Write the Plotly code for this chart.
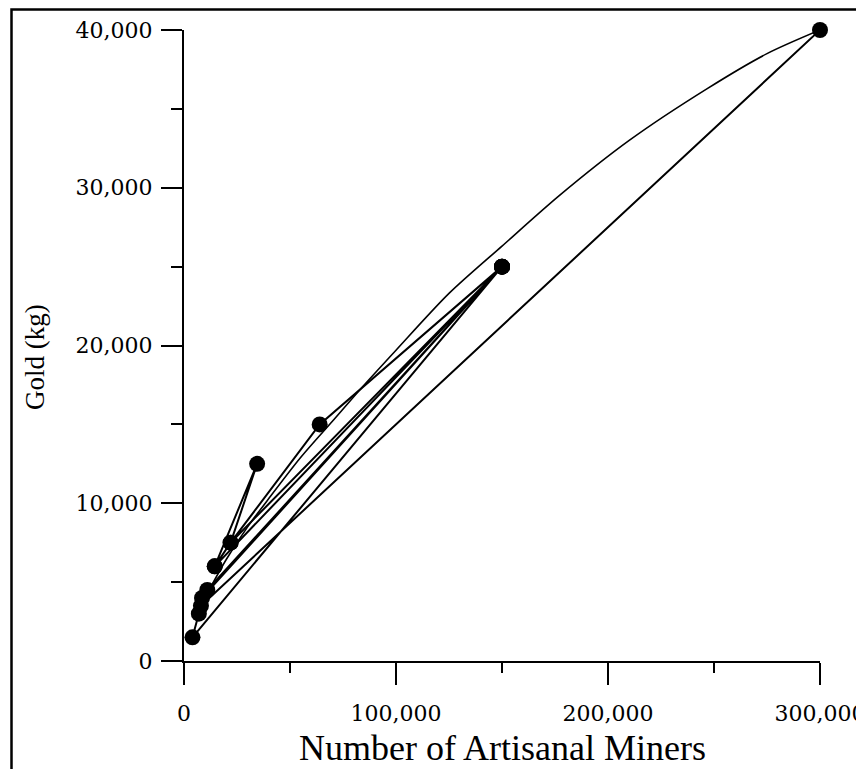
import plotly.graph_objects as go

# Data points in drawing order (as connected in the reference)
miners = [14500, 34500, 22000, 64000, 150000, 22000, 14500, 150000, 11000,
          150000, 8500, 150000, 4000, 7000, 8000, 300000]
gold = [6000, 12500, 7500, 15000, 25000, 7500, 6000, 25000, 4500,
        25000, 4000, 25000, 1500, 3000, 3500, 40000]

# Trend curve
curve_x = [10000, 20000, 30000, 40000, 55000, 70000, 83000, 100000, 125000,
           150000, 177000, 210000, 247000, 275000, 300000]
curve_y = [4050, 6450, 8500, 10300, 12900, 15200, 17200, 19700, 23300,
           26300, 29500, 33000, 36300, 38500, 40000]

x_ticks = [0, 100000, 200000, 300000]
y_ticks = [0, 10000, 20000, 30000, 40000]

# page body has an 8px margin; positions below are in figure pixels
W, H = 856, 761
L, T = 176, 22
R = W - 812
B = H - 653
pw, ph = W - L - R, H - T - B

fig = go.Figure()
fig.add_trace(go.Scatter(x=curve_x, y=curve_y, mode="lines",
                         line=dict(color="black", width=1.6, shape="spline",
                                   smoothing=0.8),
                         hoverinfo="skip", cliponaxis=False))
fig.add_trace(go.Scatter(x=miners, y=gold, mode="lines+markers",
                         line=dict(color="black", width=2),
                         marker=dict(color="black", size=16, symbol="circle"),
                         cliponaxis=False))

fig.update_layout(
    width=W, height=H,
    margin=dict(l=L, r=R, t=T, b=B, autoexpand=False),
    plot_bgcolor="white", paper_bgcolor="white",
    showlegend=False,
    font=dict(family="DejaVu Serif", size=22, color="black"),
    xaxis=dict(range=[0, 300000], tickvals=x_ticks, tickformat=",",
               automargin=False,
               showline=True, linecolor="black", linewidth=2,
               ticks="outside", ticklen=22, tickwidth=2, tickcolor="black",
               ticklabelstandoff=10, ticklabeloverflow="allow",
               minor=dict(dtick=50000, ticks="outside", ticklen=10,
                          tickwidth=2, tickcolor="black", showgrid=False),
               showgrid=False, zeroline=False),
    yaxis=dict(range=[0, 40000], tickvals=y_ticks, tickformat=",",
               automargin=False,
               showline=True, linecolor="black", linewidth=2,
               ticks="outside", ticklen=21, tickwidth=2, tickcolor="black",
               ticklabelstandoff=4, ticklabeloverflow="allow",
               minor=dict(dtick=5000, ticks="outside", ticklen=11,
                          tickwidth=2, tickcolor="black", showgrid=False),
               showgrid=False, zeroline=False),
    annotations=[
        dict(text="Number of Artisanal Miners", xref="paper", yref="paper",
             x=(494 - L) / pw, y=(653 - 740) / ph, xanchor="center",
             yanchor="middle", showarrow=False,
             font=dict(family="Liberation Serif", size=36, color="black")),
        dict(text="Gold (kg)", xref="paper", yref="paper",
             x=(27 - L) / pw, y=(653 - 349) / ph, xanchor="center",
             yanchor="middle", showarrow=False, textangle=-90,
             font=dict(family="Liberation Serif", size=27, color="black")),
    ],
    shapes=[
        dict(type="rect", xref="paper", yref="paper",
             x0=(3.5 - L) / pw, x1=(900 - L) / pw,
             y0=(653 - 800) / ph, y1=(653 - 1.5) / ph,
             line=dict(color="black", width=2.5), layer="below"),
    ],
)

fig.write_html("out.html")
